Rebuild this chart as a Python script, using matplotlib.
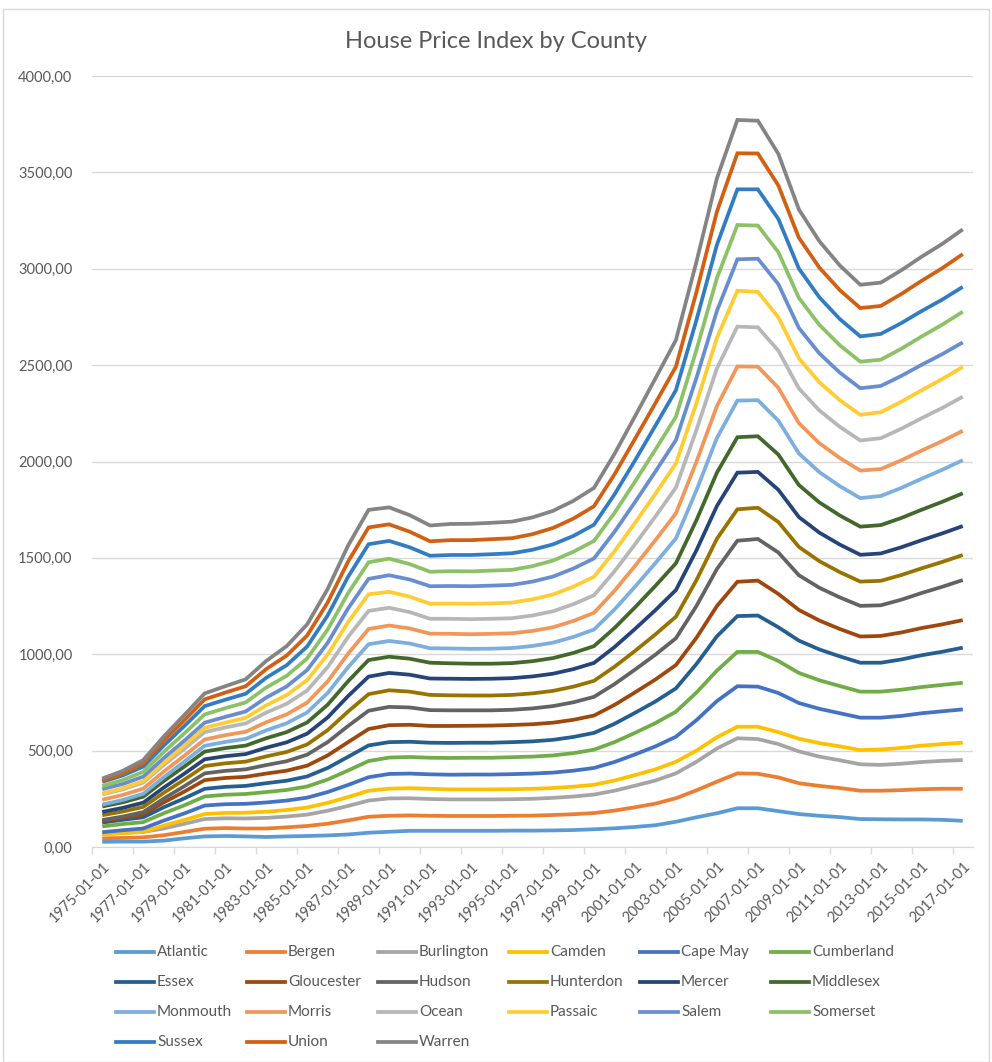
import matplotlib.pyplot as plt
import numpy as np
from matplotlib.lines import Line2D
from matplotlib.patches import Rectangle

plt.rcParams['font.family'] = ['Lato', 'DejaVu Sans']

# 年（カテゴリ軸）
years = list(range(1975, 2018))
tick_labels = [f"{y}-01-01" for y in years]

# 郡ごとの値（積み上げ前）
atlantic = [27, 28, 28, 33, 45, 55, 57, 55, 52, 55, 57, 60, 65, 74, 79, 84, 84, 84, 84, 84, 85, 85, 86, 88, 92, 97, 104, 113, 131, 154, 175, 201, 201, 186, 171, 162, 155, 145, 144, 143, 143, 141, 136]
bergen = [18, 19, 22, 28, 33, 40, 41, 41, 44, 47, 52, 61, 73, 83, 83, 80, 78, 77, 77, 77, 77, 78, 80, 82, 84, 92, 102, 112, 122, 140, 164, 181, 179, 175, 160, 155, 151, 147, 148, 152, 157, 161, 166]
burlington = [22, 26, 28, 35, 42, 50, 51, 52, 55, 56, 59, 67, 75, 84, 90, 89, 87, 86, 86, 86, 86, 87, 89, 92, 96, 103, 112, 120, 129, 148, 172, 182, 180, 173, 165, 152, 144, 137, 134, 137, 141, 145, 149]
camden = [0, 0, 0, 15, 20, 26, 28, 30, 32, 34, 37, 41, 46, 51, 51, 52, 53, 52, 52, 52, 52, 52, 51, 51, 51, 53, 55, 58, 60, 58, 58, 60, 64, 62, 66, 70, 72, 74, 80, 82, 85, 87, 90]
cape_may = [10, 14, 18, 26, 34, 44, 45, 46, 48, 49, 51, 56, 63, 70, 76, 76, 75, 76, 77, 77, 78, 79, 80, 83, 87, 96, 107, 119, 130, 158, 188, 210, 208, 203, 185, 178, 172, 168, 165, 166, 168, 170, 173]
cumberland = [30, 32, 33, 38, 42, 47, 49, 51, 54, 55, 58, 65, 75, 84, 85, 86, 86, 87, 87, 87, 88, 88, 89, 91, 95, 103, 112, 121, 130, 143, 158, 178, 180, 166, 156, 148, 141, 135, 135, 136, 136, 137, 138]
essex = [20, 22, 25, 31, 36, 40, 41, 42, 46, 48, 52, 60, 71, 81, 80, 79, 78, 78, 78, 78, 78, 79, 81, 84, 87, 95, 104, 112, 121, 148, 178, 186, 189, 175, 168, 160, 154, 150, 150, 157, 165, 172, 182]
gloucester = [8, 10, 15, 25, 35, 45, 46, 47, 50, 52, 56, 65, 76, 85, 88, 88, 87, 88, 88, 89, 89, 89, 89, 89, 90, 98, 106, 114, 121, 136, 157, 178, 181, 173, 159, 150, 142, 136, 139, 140, 141, 142, 143]
hudson = [5, 7, 12, 20, 28, 35, 37, 39, 44, 49, 57, 69, 84, 95, 95, 90, 82, 81, 80, 79, 79, 82, 86, 91, 97, 108, 118, 129, 139, 165, 192, 213, 216, 215, 180, 170, 164, 159, 159, 170, 182, 195, 208]
hunterdon = [25, 26, 27, 30, 34, 38, 39, 40, 45, 48, 53, 62, 75, 86, 86, 82, 79, 78, 77, 77, 77, 78, 79, 81, 83, 90, 97, 105, 112, 134, 157, 163, 162, 158, 147, 138, 131, 126, 127, 128, 128, 129, 130]
mercer = [17, 19, 22, 27, 31, 35, 37, 39, 45, 50, 56, 66, 80, 91, 90, 88, 85, 86, 86, 87, 87, 88, 89, 91, 93, 102, 114, 126, 138, 155, 170, 190, 186, 167, 155, 148, 143, 139, 142, 144, 146, 148, 150]
middlesex = [28, 29, 31, 34, 37, 40, 42, 44, 49, 53, 58, 66, 77, 86, 84, 83, 82, 80, 79, 78, 78, 79, 81, 84, 87, 99, 112, 126, 139, 156, 173, 184, 185, 183, 166, 157, 151, 146, 147, 152, 158, 164, 170]
monmouth = [10, 12, 15, 20, 25, 30, 32, 35, 41, 46, 52, 61, 73, 82, 82, 79, 75, 77, 77, 78, 78, 79, 80, 83, 86, 96, 107, 118, 129, 155, 180, 190, 187, 176, 164, 157, 152, 148, 151, 156, 161, 166, 172]
morris = [25, 26, 27, 29, 31, 33, 35, 37, 42, 46, 51, 60, 70, 79, 80, 78, 76, 76, 76, 77, 77, 78, 80, 83, 87, 97, 108, 119, 130, 148, 165, 177, 174, 170, 157, 150, 146, 143, 140, 143, 146, 149, 152]
ocean = [28, 29, 31, 34, 36, 38, 40, 43, 50, 55, 63, 74, 87, 94, 92, 85, 77, 78, 78, 78, 78, 80, 83, 87, 91, 101, 112, 123, 134, 165, 196, 207, 204, 193, 180, 170, 162, 156, 160, 164, 168, 172, 177]
passaic = [5, 6, 8, 12, 17, 22, 25, 29, 38, 45, 54, 65, 77, 86, 83, 80, 78, 79, 80, 80, 81, 84, 87, 91, 96, 104, 111, 118, 125, 140, 158, 186, 184, 173, 157, 146, 138, 133, 135, 140, 145, 150, 155]
salem = [22, 22, 23, 24, 25, 27, 30, 33, 40, 45, 52, 61, 71, 80, 86, 89, 91, 91, 91, 92, 92, 92, 93, 94, 95, 101, 108, 115, 121, 130, 140, 163, 172, 172, 157, 150, 143, 138, 136, 134, 132, 129, 127]
somerset = [16, 20, 25, 32, 38, 43, 45, 47, 52, 55, 60, 69, 79, 86, 86, 80, 75, 77, 77, 78, 78, 80, 83, 87, 91, 98, 106, 114, 121, 145, 170, 178, 172, 166, 156, 148, 142, 138, 136, 141, 147, 153, 159]
sussex = [22, 24, 27, 33, 38, 43, 44, 45, 51, 55, 62, 73, 85, 94, 92, 87, 83, 84, 85, 85, 86, 85, 84, 82, 84, 96, 110, 124, 138, 155, 173, 185, 188, 172, 152, 143, 136, 131, 134, 133, 132, 130, 129]
union = [5, 10, 17, 25, 30, 35, 37, 39, 45, 50, 57, 67, 79, 87, 86, 81, 75, 77, 77, 78, 78, 81, 85, 90, 96, 104, 112, 117, 122, 145, 172, 187, 186, 174, 160, 154, 150, 147, 145, 151, 157, 163, 170]
warren = [12, 14, 17, 22, 27, 31, 33, 36, 42, 49, 58, 70, 83, 91, 88, 86, 82, 84, 85, 85, 86, 87, 89, 92, 95, 106, 117, 128, 138, 157, 173, 173, 170, 164, 147, 137, 128, 121, 121, 123, 125, 126, 128]

counties = ["Atlantic", "Bergen", "Burlington", "Camden", "Cape May", "Cumberland",
            "Essex", "Gloucester", "Hudson", "Hunterdon", "Mercer", "Middlesex",
            "Monmouth", "Morris", "Ocean", "Passaic", "Salem", "Somerset",
            "Sussex", "Union", "Warren"]
series = [atlantic, bergen, burlington, camden, cape_may, cumberland, essex,
          gloucester, hudson, hunterdon, mercer, middlesex, monmouth, morris,
          ocean, passaic, salem, somerset, sussex, union, warren]
colors = ["#5B9BD5", "#ED7D31", "#A5A5A5", "#FFC000", "#4472C4", "#70AD47",
          "#255E91", "#9E480E", "#636363", "#997300", "#264478", "#43682B",
          "#7CAFDD", "#F1975A", "#B7B7B7", "#FFCD33", "#698ED0", "#8CC168",
          "#327DC2", "#D26012", "#848484"]

# 積み上げ折れ線
stacked = np.cumsum(np.array(series, dtype=float), axis=0)
x = np.arange(len(years))

fig = plt.figure(figsize=(9.92, 10.62), dpi=100)
fig.patches.append(Rectangle((0.003, 0.0), 0.994, 0.9915, transform=fig.transFigure,
                             fill=False, edgecolor="#d9d9d9", lw=1))

ax = fig.add_axes([92 / 992, 1 - 847 / 1062, (973 - 92) / 992, (847 - 76) / 1062])
for i in range(len(series)):
    ax.plot(x, stacked[i], color=colors[i], lw=2.7, solid_joinstyle="miter",
            solid_capstyle="butt", zorder=3 + i)

ax.set_xlim(-0.5, len(years) - 0.5)
ax.set_ylim(0, 4000)
ax.set_yticks(np.arange(0, 4001, 500))
ax.set_yticklabels([f"{v},00" for v in range(0, 4001, 500)])
ax.grid(axis="y", color="#d9d9d9", lw=1)
ax.set_axisbelow(True)

# 目盛りはカテゴリの境界、ラベルは中央
ax.set_xticks(np.arange(-0.5, len(years) - 1, 2))
ax.set_xticklabels([])
ax.set_xticks(x[::2], minor=True)
ax.set_xticklabels(tick_labels[::2], minor=True, rotation=45, ha="right",
                   va="top", rotation_mode="anchor")
ax.tick_params(axis="x", which="major", length=5, color="#d9d9d9", width=1)
ax.tick_params(axis="x", which="minor", length=0, pad=9, labelsize=10.5,
               labelcolor="#595959")
ax.tick_params(axis="y", length=0, pad=14, labelsize=10.5, labelcolor="#595959")
for s in ["top", "right", "left"]:
    ax.spines[s].set_visible(False)
ax.spines["bottom"].set_color("#d9d9d9")

fig.text(0.5, 1 - 42 / 1062, "House Price Index by County", ha="center",
         va="center", fontsize=17, color="#595959")

# 凡例（行ごとに並べる）
for k, name in enumerate(counties):
    r, c = divmod(k, 6)
    x0 = (116 + c * 131) / 992
    y0 = 1 - (952 + r * 30) / 1062
    fig.add_artist(Line2D([x0, x0 + 38 / 992], [y0, y0], color=colors[k], lw=2.7,
                          transform=fig.transFigure))
    fig.text(x0 + 41 / 992, y0, name, ha="left", va="center", fontsize=11,
             color="#595959")

fig.savefig("out.png", dpi=100)
